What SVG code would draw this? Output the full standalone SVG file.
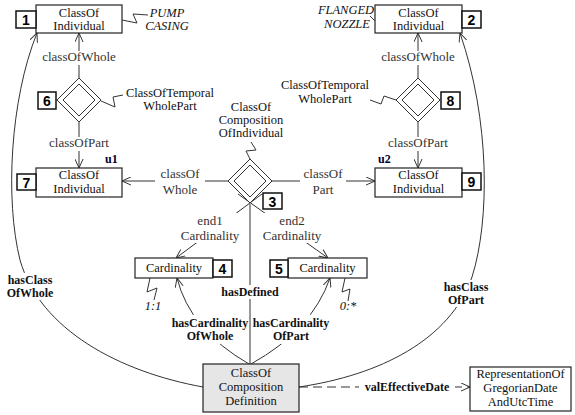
<svg xmlns="http://www.w3.org/2000/svg" width="575" height="415" viewBox="0 0 575 415">
<style>
.box{fill:#fff;stroke:#222;stroke-width:1.2}
.gbox{fill:#e6e6e6;stroke:#222;stroke-width:1.2}
.num{fill:#fff;stroke:#111;stroke-width:1.5}
.numt{font-family:'Liberation Sans','DejaVu Sans',sans-serif;font-weight:bold;font-size:14px;text-anchor:middle;fill:#000}
.t{font-family:'Liberation Serif','DejaVu Serif',serif;font-size:12.5px;text-anchor:middle;fill:#111}
.lb{font-family:'Liberation Serif','DejaVu Serif',serif;font-size:13px;text-anchor:middle;fill:#333}
.bl{font-family:'Liberation Serif','DejaVu Serif',serif;font-size:12px;font-weight:bold;text-anchor:middle;fill:#111}
.it{font-family:'Liberation Serif','DejaVu Serif',serif;font-size:12.5px;font-style:italic;text-anchor:middle;fill:#111}
.u{font-family:'Liberation Serif','DejaVu Serif',serif;font-size:12px;font-weight:bold;fill:#000033}
.ln{fill:none;stroke:#333;stroke-width:1}
.zz{fill:none;stroke:#333;stroke-width:1}
.bg{fill:#fff;stroke:none}
.dia{fill:#fff;stroke:#333;stroke-width:1}
</style>
<defs>
<marker id="arr" viewBox="0 0 10 10" refX="10" refY="5" markerWidth="9" markerHeight="9" markerUnits="userSpaceOnUse" orient="auto">
<path d="M0,0.5 L10,5 L0,9.5" fill="none" stroke="#333" stroke-width="1.1"/>
</marker>
</defs>

<g id="connectors">
<path class="ln" d="M79,78 L79,33" marker-end="url(#arr)"/>
<path class="ln" d="M79,122 L79,168" marker-end="url(#arr)"/>
<path class="ln" d="M418,78 L418,33" marker-end="url(#arr)"/>
<path class="ln" d="M418,122 L418,168" marker-end="url(#arr)"/>
<path class="ln" d="M228,181 L122,181" marker-end="url(#arr)"/>
<path class="ln" d="M272,181 L375,181" marker-end="url(#arr)"/>
<path class="ln" d="M262,194 L176,258" marker-end="url(#arr)"/>
<path class="ln" d="M238,194 L328,258" marker-end="url(#arr)"/>
<path class="ln" d="M250,204 L250,364"/>
<path class="ln" d="M249,364 Q190,330 177,278" marker-end="url(#arr)"/>
<path class="ln" d="M251,364 Q312,330 330,278" marker-end="url(#arr)"/>
<path class="ln" d="M203,387 C120,372 40,330 20,260 C5,200 10,100 37,33" marker-end="url(#arr)"/>
<path class="ln" d="M299,387 C380,375 450,340 472,277 C490,220 490,120 460,33" marker-end="url(#arr)"/>
<path class="ln" d="M299,387 L470,387" stroke-dasharray="9,5" marker-end="url(#arr)"/>

<rect class="bg" x="40" y="51" width="78" height="14"/>
<text class="lb" x="79" y="61">classOfWhole</text>
<rect class="bg" x="44" y="137" width="70" height="14"/>
<text class="lb" x="79" y="147">classOfPart</text>
<rect class="bg" x="379" y="51" width="78" height="14"/>
<text class="lb" x="418" y="61">classOfWhole</text>
<rect class="bg" x="383" y="137" width="70" height="14"/>
<text class="lb" x="418" y="147">classOfPart</text>
<rect class="bg" x="155" y="166" width="50" height="31"/>
<text class="lb" x="180" y="178">classOf</text>
<text class="lb" x="180" y="194">Whole</text>
<rect class="bg" x="300" y="166" width="46" height="31"/>
<text class="lb" x="323" y="178">classOf</text>
<text class="lb" x="323" y="194">Part</text>
<rect class="bg" x="173" y="213" width="75" height="30"/>
<text class="lb" x="210" y="225">end1</text>
<text class="lb" x="210" y="240">Cardinality</text>
<rect class="bg" x="255" y="213" width="74" height="30"/>
<text class="lb" x="292" y="225">end2</text>
<text class="lb" x="292" y="240">Cardinality</text>
<rect class="bg" x="221" y="285" width="59" height="14"/>
<text class="bl" x="250" y="296">hasDefined</text>
<rect class="bg" x="171" y="315" width="78" height="29"/>
<text class="bl" x="210" y="327">hasCardinality</text>
<text class="bl" x="210" y="340">OfWhole</text>
<rect class="bg" x="252" y="315" width="79" height="29"/>
<text class="bl" x="291" y="327">hasCardinality</text>
<text class="bl" x="291" y="340">OfPart</text>
<rect class="bg" x="6" y="273" width="48" height="27"/>
<text class="bl" x="30" y="284">hasClass</text>
<text class="bl" x="30" y="297">OfWhole</text>
<rect class="bg" x="443" y="280" width="47" height="27"/>
<text class="bl" x="466" y="291">hasClass</text>
<text class="bl" x="466" y="304">OfPart</text>
<rect class="bg" x="359" y="380" width="96" height="14"/>
<text class="bl" x="407" y="391">valEffectiveDate</text>
</g>

<g id="n1">
<rect class="box" x="36" y="5" width="86" height="28"/>
<text class="t" x="79" y="17">ClassOf</text>
<text class="t" x="79" y="30">Individual</text>
<rect class="num" x="16" y="11" width="20" height="17"/>
<text class="numt" x="26" y="25">1</text>
<path class="zz" d="M122,20 L137,23 L133,14 L148,15"/>
<text class="it" x="167" y="17">PUMP</text>
<text class="it" x="167" y="30">CASING</text>
</g>

<g id="n2">
<rect class="box" x="375" y="5" width="87" height="28"/>
<text class="t" x="418.5" y="17">ClassOf</text>
<text class="t" x="418.5" y="30">Individual</text>
<rect class="num" x="462" y="11" width="19" height="17"/>
<text class="numt" x="471.5" y="25">2</text>
<path class="zz" d="M375,21 L370,16"/>
<text class="it" x="346" y="14">FLANGED</text>
<text class="it" x="347" y="28">NOZZLE</text>
</g>

<g id="n6">
<path class="dia" d="M79,78 L101,100 L79,122 L57,100 Z"/>
<path class="dia" d="M79,84 L95,100 L79,116 L63,100 Z"/>
<rect class="num" x="38" y="92" width="18" height="17"/>
<text class="numt" x="47" y="106">6</text>
<path class="zz" d="M101,101 L115,107 L113,97 L123,95"/>
<text class="t" x="170" y="97">ClassOfTemporal</text>
<text class="t" x="170" y="110">WholePart</text>
</g>

<g id="n8">
<path class="dia" d="M418,78 L440,100 L418,122 L396,100 Z"/>
<path class="dia" d="M418,84 L434,100 L418,116 L402,100 Z"/>
<rect class="num" x="441" y="92" width="19" height="17"/>
<text class="numt" x="450.5" y="106">8</text>
<path class="zz" d="M396,100 L384,96 L381,104 L370,100"/>
<text class="t" x="325" y="89">ClassOfTemporal</text>
<text class="t" x="325" y="103">WholePart</text>
</g>

<g id="n7">
<rect class="box" x="36" y="168" width="86" height="29"/>
<text class="t" x="79" y="179">ClassOf</text>
<text class="t" x="79" y="193">Individual</text>
<rect class="num" x="17" y="174" width="19" height="16"/>
<text class="numt" x="26.5" y="187.5">7</text>
<text class="u" x="105" y="163">u1</text>
</g>

<g id="n9">
<rect class="box" x="375" y="168" width="87" height="29"/>
<text class="t" x="418.5" y="179">ClassOf</text>
<text class="t" x="418.5" y="193">Individual</text>
<rect class="num" x="462" y="173" width="19" height="17"/>
<text class="numt" x="471.5" y="187">9</text>
<text class="u" x="378" y="163">u2</text>
</g>

<g id="n3">
<path class="dia" d="M250,159 L272,181 L250,203 L228,181 Z"/>
<path class="dia" d="M250,165 L266,181 L250,197 L234,181 Z"/>
<rect class="num" x="263" y="193" width="19" height="16"/>
<text class="numt" x="272.5" y="206.5">3</text>
<path class="zz" d="M250,159 L246,151 L256,150 L251,142"/>
<text class="t" x="251" y="111">ClassOf</text>
<text class="t" x="251" y="124">Composition</text>
<text class="t" x="251" y="137">OfIndividual</text>
</g>

<g id="n4">
<rect class="box" x="135" y="258" width="78" height="20"/>
<text class="t" x="174" y="272">Cardinality</text>
<rect class="num" x="213" y="260" width="19" height="17"/>
<text class="numt" x="222.5" y="273.5">4</text>
<path class="zz" d="M150,278 L147,292 L157,288 L154,300"/>
<text class="it" x="153" y="310" fill="#1a1a50">1:1</text>
</g>

<g id="n5">
<rect class="box" x="288" y="258" width="79" height="20"/>
<text class="t" x="327.5" y="272">Cardinality</text>
<rect class="num" x="270" y="260" width="18" height="17"/>
<text class="numt" x="279" y="273.5">5</text>
<path class="zz" d="M345,278 L342,292 L350,289 L348,301"/>
<text class="it" x="348" y="310">0:*</text>
</g>

<g id="ccd">
<rect class="gbox" x="203" y="364" width="96" height="48"/>
<text class="t" x="251" y="377">ClassOf</text>
<text class="t" x="251" y="391">Composition</text>
<text class="t" x="251" y="405">Definition</text>
</g>

<g id="rep">
<rect class="box" x="470" y="367" width="101" height="44"/>
<text class="t" x="520.5" y="378">RepresentationOf</text>
<text class="t" x="520.5" y="392">GregorianDate</text>
<text class="t" x="520.5" y="406">AndUtcTime</text>
</g>
</svg>
